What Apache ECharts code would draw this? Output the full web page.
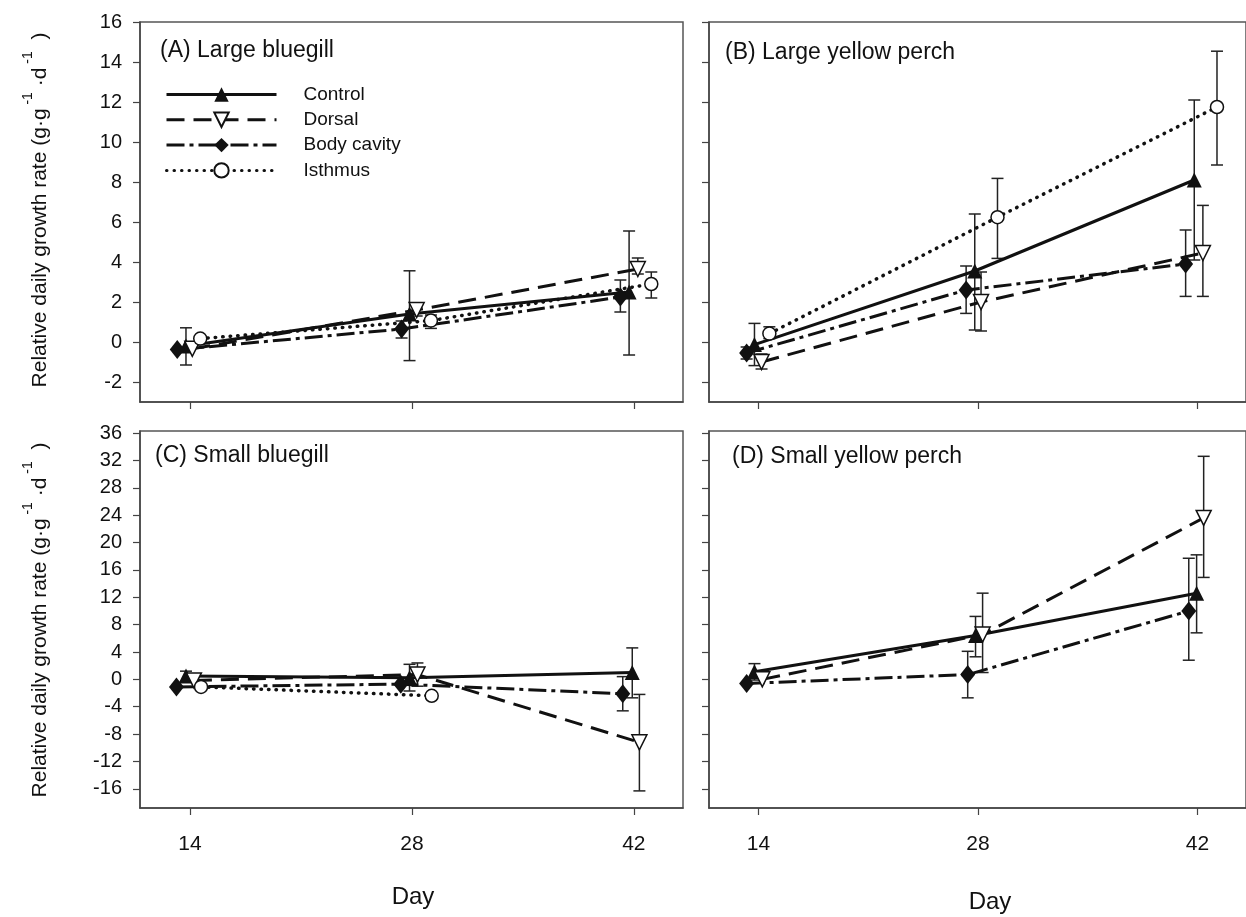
<!DOCTYPE html>
<html>
<head>
<meta charset="utf-8">
<script src="https://cdn.jsdelivr.net/npm/echarts@6/dist/echarts.min.js"></script>
<style>
  html, body { margin: 0; padding: 0; background: #fff; }
  #chart { width: 1246px; height: 917px; }
</style>
</head>
<body>
<div id="chart"></div>
<script>
// ---------- data: [day, mean, errLow, errHigh] ----------
const xTicks = [14, 28, 42];
const yTicksTop = [-2, 0, 2, 4, 6, 8, 10, 12, 14, 16];
const yTicksBottom = [-16, -12, -8, -4, 0, 4, 8, 12, 16, 20, 24, 28, 32, 36];
const seriesNames = ['Control', 'Dorsal', 'Body cavity', 'Isthmus'];
const panelTitles = ['(A) Large bluegill', '(B) Large yellow perch', '(C) Small bluegill', '(D) Small yellow perch'];

const aControl = [[13.75, -0.2, -1.15, 0.71], [27.85, 1.4, -0.93, 3.56], [41.7, 2.5, -0.65, 5.55]];
const aDorsal = [[14.15, -0.34, null, null], [28.3, 1.6, 1.3, 1.95], [42.25, 3.65, 3.4, 4.2]];
const aBody = [[13.2, -0.38, null, null], [27.35, 0.65, 0.2, 1.05], [41.15, 2.25, 1.5, 3.1]];
const aIsthmus = [[14.65, 0.17, null, null], [29.2, 1.07, 0.68, 1.35], [43.1, 2.9, 2.2, 3.5]];

const bControl = [[13.75, -0.13, -1.18, 0.93], [27.8, 3.55, 0.6, 6.4], [41.8, 8.1, 4.1, 12.1]];
const bDorsal = [[14.2, -1.0, -1.35, -0.6], [28.2, 2.0, 0.55, 3.5], [42.35, 4.45, 2.28, 6.83]];
const bBody = [[13.25, -0.55, -0.85, -0.25], [27.25, 2.6, 1.43, 3.8], [41.25, 3.9, 2.28, 5.6]];
const bIsthmus = [[14.7, 0.42, 0.17, 0.76], [29.25, 6.24, 4.18, 8.18], [43.25, 11.75, 8.85, 14.54]];

const cControl = [[13.75, 0.5, -0.3, 1.2], [27.85, 0.25, -1.7, 2.2], [41.9, 1.0, -2.7, 4.6]];
const cDorsal = [[14.25, -0.15, null, null], [28.35, 0.7, -1.0, 2.4], [42.35, -9.2, -16.3, -2.2]];
const cBody = [[13.15, -1.1, null, null], [27.3, -0.7, null, null], [41.3, -2.1, -4.6, 0.4]];
const cIsthmus = [[14.7, -1.1, null, null], [29.25, -2.4, null, null]];

const dControl = [[13.75, 1.1, -0.1, 2.3], [27.85, 6.4, 3.3, 9.2], [41.95, 12.6, 6.8, 18.2]];
const dDorsal = [[14.25, 0.0, null, null], [28.3, 6.55, 1.0, 12.6], [42.4, 23.6, 14.9, 32.6]];
const dBody = [[13.25, -0.6, null, null], [27.35, 0.7, -2.7, 4.1], [41.45, 10.0, 2.8, 17.7]];

// ---------- styles ----------
const FONT = '"Liberation Sans", Arial, Helvetica, sans-serif';
const INK = '#111';
const styles = {
  'Control': { symbol: 'triangle', symbolSize: 15, symbolRotate: 0, itemStyle: { color: INK }, lineStyle: { color: INK, width: 3, type: 'solid' } },
  'Dorsal': { symbol: 'triangle', symbolSize: 15, symbolRotate: 180, itemStyle: { color: '#fff', borderColor: INK, borderWidth: 1.5 }, lineStyle: { color: INK, width: 3, type: [18, 9] } },
  'Body cavity': { symbol: 'diamond', symbolSize: [15, 19], symbolRotate: 0, itemStyle: { color: INK }, lineStyle: { color: INK, width: 3, type: [18, 5, 4, 5] } },
  'Isthmus': { symbol: 'circle', symbolSize: 13, symbolRotate: 0, itemStyle: { color: '#fff', borderColor: INK, borderWidth: 1.5 }, lineStyle: { color: INK, width: 3.5, type: [0.5, 7], cap: 'round' } }
};

const panels = [
  { data: [aControl, aDorsal, aBody, aIsthmus] },
  { data: [bControl, bDorsal, bBody, bIsthmus] },
  { data: [cControl, cDorsal, cBody, cIsthmus] },
  { data: [dControl, dDorsal, dBody] }
];

const grids = [
  { left: 140, top: 22, width: 543, height: 380 },
  { left: 709, top: 22, width: 543, height: 380 },
  { left: 140, top: 431, width: 543, height: 377 },
  { left: 709, top: 431, width: 543, height: 377 }
];

const series = [];
panels.forEach((p, pi) => {
  p.data.forEach((arr, si) => {
    const name = seriesNames[si];
    const st = styles[name];
    series.push({
      type: 'custom',
      name: 'err-' + pi + '-' + si,
      xAxisIndex: pi, yAxisIndex: pi,
      silent: true, z: 1,
      data: arr.filter(d => d[2] != null).map(d => [d[0], d[2], d[3]]),
      encode: { x: 0, y: [1, 2] },
      renderItem: function (params, api) {
        const lo = api.coord([api.value(0), api.value(1)]);
        const hi = api.coord([api.value(0), api.value(2)]);
        const w = 6;
        const s = { stroke: '#222', lineWidth: 1.5 };
        return {
          type: 'group',
          children: [
            { type: 'line', shape: { x1: lo[0], y1: lo[1], x2: hi[0], y2: hi[1] }, style: s },
            { type: 'line', shape: { x1: lo[0] - w, y1: lo[1], x2: lo[0] + w, y2: lo[1] }, style: s },
            { type: 'line', shape: { x1: hi[0] - w, y1: hi[1], x2: hi[0] + w, y2: hi[1] }, style: s }
          ]
        };
      }
    });
    series.push({
      type: 'line',
      name: name,
      xAxisIndex: pi, yAxisIndex: pi,
      data: arr.map(d => [d[0], d[1]]),
      symbol: st.symbol,
      symbolSize: st.symbolSize,
      symbolRotate: st.symbolRotate,
      showAllSymbol: true,
      itemStyle: st.itemStyle,
      lineStyle: st.lineStyle,
      z: 3,
      animation: false
    });
  });
});

const xAxes = grids.map((g, i) => ({
  type: 'value', gridIndex: i, min: 10.85, max: 45.1,
  axisLine: { show: true, onZero: false, lineStyle: { color: '#444', width: 1.5 } },
  axisTick: { show: true, inside: false, length: 7, customValues: xTicks, lineStyle: { color: '#444', width: 1.2 } },
  axisLabel: { show: i >= 2, customValues: xTicks, margin: 26, fontFamily: FONT, fontSize: 21, color: '#111' },
  splitLine: { show: false }
}));
const yAxes = grids.map((g, i) => {
  const top = i < 2;
  const ticks = top ? yTicksTop : yTicksBottom;
  return {
    type: 'value', gridIndex: i,
    min: top ? -3 : -18.8, max: top ? 16 : 36.3,
    axisLine: { show: true, onZero: false, lineStyle: { color: '#444', width: 1.5 } },
    axisTick: { show: true, inside: false, length: 7, customValues: ticks, lineStyle: { color: '#444', width: 1.2 } },
    axisLabel: { show: i === 0 || i === 2, customValues: ticks, margin: 18, fontFamily: FONT, fontSize: 20, color: '#111' },
    splitLine: { show: false }
  };
});

const panelLabelPos = [[160, 53], [725, 55], [155, 458], [732, 459]];
const graphics = panelTitles.map((t, i) => ({
  type: 'text', left: panelLabelPos[i][0], top: panelLabelPos[i][1] - 14,
  style: { text: t, font: '23px ' + FONT, fill: '#111' }
}));
const yTitleRich = {
  m: { fontFamily: FONT, fontSize: 21, lineHeight: 30, verticalAlign: 'bottom', fill: '#111', color: '#111' },
  s: { fontFamily: FONT, fontSize: 14, lineHeight: 14, verticalAlign: 'top', fill: '#111', color: '#111' }
};
const yTitleText = '{m|Relative daily growth rate (g·g}{s| -1}{m| ·d}{s| -1}{m|  )}';
graphics.push({ type: 'text', x: 36, y: 210, rotation: Math.PI / 2,
  style: { text: yTitleText, rich: yTitleRich, align: 'center', verticalAlign: 'middle', textAlign: 'center', textVerticalAlign: 'middle' } });
graphics.push({ type: 'text', x: 36, y: 620, rotation: Math.PI / 2,
  style: { text: yTitleText, rich: yTitleRich, align: 'center', verticalAlign: 'middle', textAlign: 'center', textVerticalAlign: 'middle' } });
graphics.push({ type: 'text', x: 413, y: 897, style: { text: 'Day', font: '24px ' + FONT, fill: '#111', align: 'center', verticalAlign: 'middle', textAlign: 'center', textVerticalAlign: 'middle' } });
graphics.push({ type: 'text', x: 990, y: 902, style: { text: 'Day', font: '24px ' + FONT, fill: '#111', align: 'center', verticalAlign: 'middle', textAlign: 'center', textVerticalAlign: 'middle' } });

const option = {
  backgroundColor: '#fff',
  animation: false,
  grid: grids.map(g => Object.assign({ show: true, borderColor: '#555', borderWidth: 1.5, backgroundColor: 'transparent', containLabel: false }, g)),
  xAxis: xAxes,
  yAxis: yAxes,
  legend: {
    data: seriesNames,
    orient: 'vertical',
    left: 165, top: 85,
    padding: 0,
    itemWidth: 110, itemHeight: 18, itemGap: 6.3,
    selectedMode: false,
    lineStyle: { width: 3 },
    textStyle: { fontFamily: FONT, fontSize: 19, color: '#111', padding: [0, 0, 0, 22] }
  },
  graphic: graphics,
  series: series
};

const chart = echarts.init(document.getElementById('chart'), null, { renderer: 'canvas' });
chart.setOption(option);
</script>
</body>
</html>
